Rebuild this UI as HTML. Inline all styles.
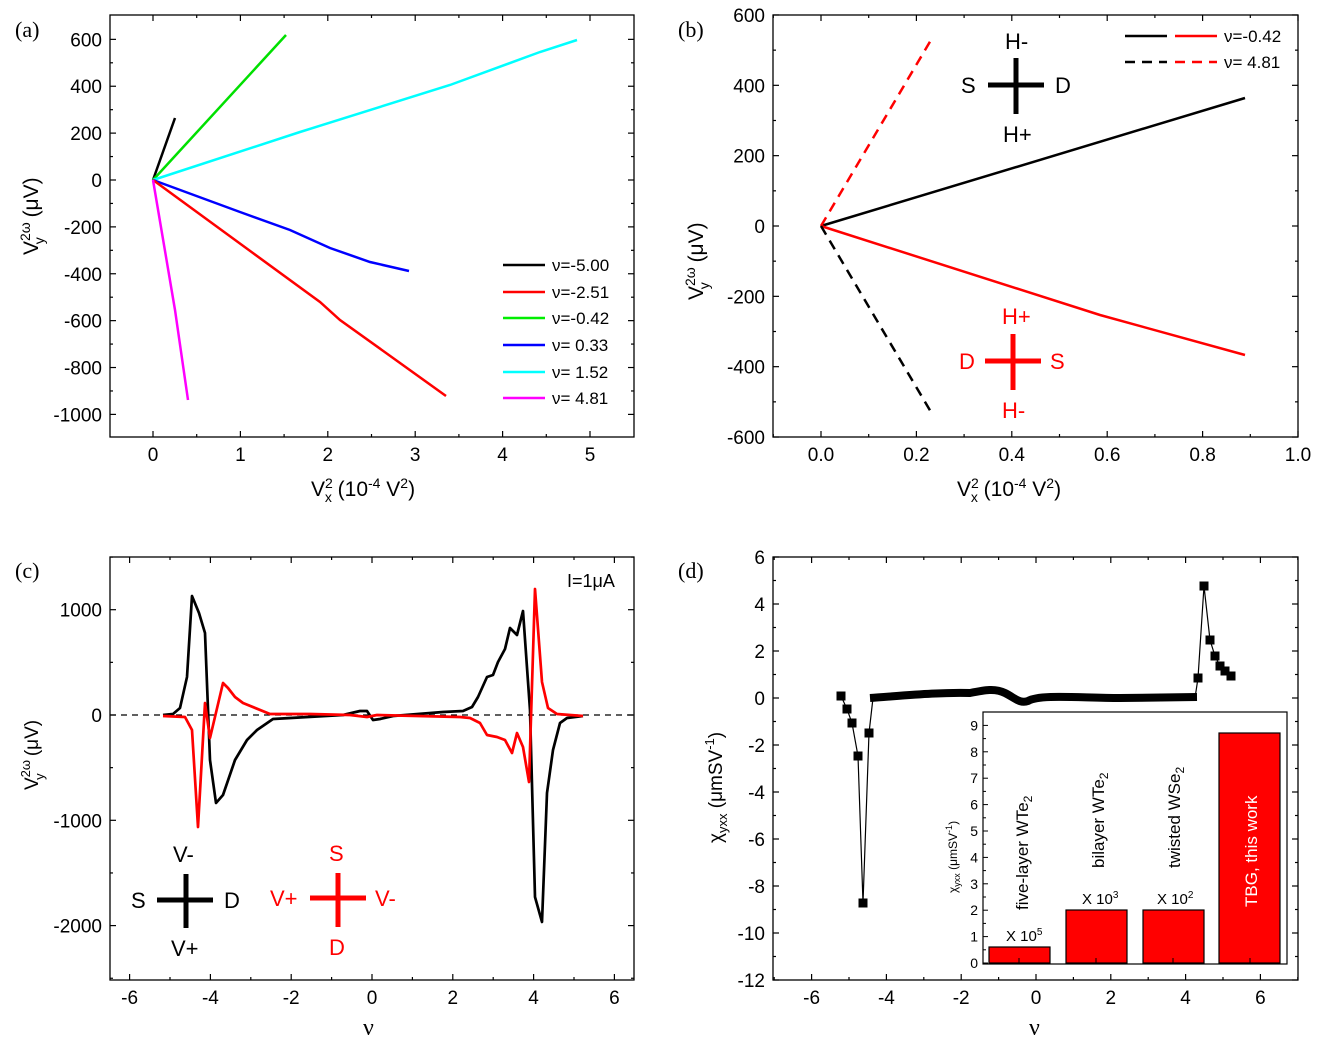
<!DOCTYPE html>
<html><head><meta charset="utf-8"><style>
body{margin:0;background:#fff}
svg{display:block;font-family:"Liberation Sans",sans-serif}
.s{font-family:"Liberation Serif",serif}
</style></head><body>
<svg id="g" width="1331" height="1049" viewBox="0 0 1331 1049" xmlns="http://www.w3.org/2000/svg">
<g fill="none" stroke="#000" stroke-width="1.3">
<rect x="110" y="15" width="524" height="422"/>
<rect x="773" y="15" width="525" height="422"/>
<rect x="110" y="557" width="524" height="423"/>
<rect x="773" y="557" width="525" height="423"/>
</g>
<g id="ticks" stroke="#000" stroke-width="1.2"></g>
<g id="labels" font-size="19" fill="#000"></g>
<text class="s" x="15" y="37" font-size="22">(a)</text>
<text class="s" x="678" y="37" font-size="22">(b)</text>
<text class="s" x="15" y="578" font-size="22">(c)</text>
<text class="s" x="678" y="578" font-size="22">(d)</text>

<text x="311" y="496" font-size="21">V<tspan font-size="14" dy="-8">2</tspan><tspan font-size="14" dx="-8" dy="14">x</tspan><tspan dy="-6"> (10</tspan><tspan font-size="14" dy="-8">-4</tspan><tspan dy="8"> V</tspan><tspan font-size="14" dy="-8">2</tspan><tspan dy="8">)</tspan></text>
<text x="957" y="496" font-size="21">V<tspan font-size="14" dy="-8">2</tspan><tspan font-size="14" dx="-8" dy="14">x</tspan><tspan dy="-6"> (10</tspan><tspan font-size="14" dy="-8">-4</tspan><tspan dy="8"> V</tspan><tspan font-size="14" dy="-8">2</tspan><tspan dy="8">)</tspan></text>
<text transform="translate(38,255) rotate(-90)" font-size="21">V<tspan font-size="14" dy="-8">2ω</tspan><tspan font-size="14" dx="-22" dy="14">y</tspan><tspan dy="-6" dx="14"> (μV)</tspan></text>
<text transform="translate(703,300) rotate(-90)" font-size="21">V<tspan font-size="14" dy="-8">2ω</tspan><tspan font-size="14" dx="-22" dy="14">y</tspan><tspan dy="-6" dx="14"> (μV)</tspan></text>
<text transform="translate(38,790) rotate(-90)" font-size="19">V<tspan font-size="13" dy="-8">2ω</tspan><tspan font-size="13" dx="-20" dy="14">y</tspan><tspan dy="-6" dx="12"> (μV)</tspan></text>
<text transform="translate(722,843) rotate(-90)" font-size="19">χ<tspan font-size="13" dy="5">yxx</tspan><tspan dy="-5"> (μmSV</tspan><tspan font-size="13" dy="-8">-1</tspan><tspan dy="8">)</tspan></text>
<text class="s" x="363" y="1035" font-size="24">ν</text>
<text class="s" x="1029" y="1035" font-size="24">ν</text>

<!-- panel a -->
<g fill="none" stroke-width="2.5">
<polyline stroke="#000" points="153,180 175,118"/>
<polyline stroke="#00e000" points="153,180 286,35"/>
<polyline stroke="#00ffff" points="153,180 300,132 450,85 540,52 577,40"/>
<polyline stroke="#0000ff" points="153,180 240,212 290,230 330,248 370,262 409,271"/>
<polyline stroke="#ff0000" points="153,180 320,302 340,320 400,363 446,396"/>
<polyline stroke="#ff00ff" points="153,180 175,310 188,400"/>
</g>
<g font-size="17">
<line x1="503" y1="265" x2="545" y2="265" stroke="#000" stroke-width="2.5"/><text x="552" y="271">ν=-5.00</text>
<line x1="503" y1="292" x2="545" y2="292" stroke="#f00" stroke-width="2.5"/><text x="552" y="298">ν=-2.51</text>
<line x1="503" y1="318" x2="545" y2="318" stroke="#0e0" stroke-width="2.5"/><text x="552" y="324">ν=-0.42</text>
<line x1="503" y1="345" x2="545" y2="345" stroke="#00f" stroke-width="2.5"/><text x="552" y="351">ν= 0.33</text>
<line x1="503" y1="372" x2="545" y2="372" stroke="#0ff" stroke-width="2.5"/><text x="552" y="378">ν= 1.52</text>
<line x1="503" y1="398" x2="545" y2="398" stroke="#f0f" stroke-width="2.5"/><text x="552" y="404">ν= 4.81</text>
</g>

<!-- panel b -->
<g fill="none" stroke-width="2.5">
<polyline stroke="#000" points="821,226 1245,98"/>
<polyline stroke="#f00" points="821,226 1100,315 1245,355"/>
<polyline stroke="#f00" stroke-dasharray="10,7" points="821,226 931,40"/>
<polyline stroke="#000" stroke-dasharray="10,7" points="821,226 931,412"/>
<line x1="1125" y1="36" x2="1167" y2="36" stroke="#000"/><line x1="1175" y1="36" x2="1217" y2="36" stroke="#f00"/>
<line x1="1125" y1="62" x2="1167" y2="62" stroke="#000" stroke-dasharray="10,7"/><line x1="1175" y1="62" x2="1217" y2="62" stroke="#f00" stroke-dasharray="10,7"/>
</g>
<text x="1224" y="42" font-size="17">ν=-0.42</text>
<text x="1224" y="68" font-size="17">ν= 4.81</text>
<g stroke="#000" stroke-width="5"><line x1="988" y1="85" x2="1044" y2="85"/><line x1="1016" y1="58" x2="1016" y2="114"/></g>
<g font-size="22"><text x="1005" y="49">H-</text><text x="961" y="93">S</text><text x="1055" y="93">D</text><text x="1003" y="142">H+</text></g>
<g stroke="#f00" stroke-width="5"><line x1="985" y1="361" x2="1041" y2="361"/><line x1="1013" y1="334" x2="1013" y2="390"/></g>
<g font-size="22" fill="#f00"><text x="1002" y="324">H+</text><text x="959" y="369">D</text><text x="1050" y="369">S</text><text x="1002" y="418">H-</text></g>

<!-- panel c -->
<line x1="110" y1="715" x2="634" y2="715" stroke="#000" stroke-width="1.3" stroke-dasharray="6,5"/>
<g fill="none" stroke-width="2.7" stroke-linejoin="round">
<polyline stroke="#000" points="163,715 173,714 180,708 187,677 192,596 199,613 205,633 210,760 216,803 223,795 235,760 247,740 257,730 273,719 343,715 360,711 367,711 373,720 380,719 393,716 443,712 463,711 472,707 478,697 487,677 493,675 498,662 505,649 510,628 517,635 523,611 530,710 535,897 542,922 547,793 553,750 560,723 567,718 583,716"/>
<polyline stroke="#f00" points="163,716 185,717 192,730 198,827 205,703 210,738 223,683 228,688 235,697 243,703 270,714 310,714 350,715 367,717 377,715 460,717 470,718 480,723 487,735 497,737 505,740 512,753 517,733 523,747 529,782 535,589 542,682 548,708 557,714 583,716"/>
</g>
<text x="567" y="587" font-size="18">I=1μA</text>
<g stroke="#000" stroke-width="5"><line x1="157" y1="900" x2="213" y2="900"/><line x1="186" y1="874" x2="186" y2="928"/></g>
<g font-size="22"><text x="173" y="862">V-</text><text x="131" y="908">S</text><text x="224" y="908">D</text><text x="171" y="956">V+</text></g>
<g stroke="#f00" stroke-width="5"><line x1="310" y1="898" x2="366" y2="898"/><line x1="338" y1="873" x2="338" y2="927"/></g>
<g font-size="22" fill="#f00"><text x="329" y="861">S</text><text x="270" y="906">V+</text><text x="375" y="906">V-</text><text x="329" y="955">D</text></g>

<!-- panel d -->
<g fill="none" stroke="#000" stroke-width="1.2">
<polyline points="841,696 847,709 852,723 858,756 863,903 869,733 873,698"/>
<polyline points="1195,698 1198,678 1204,586 1210,640 1215,656 1220,666 1225,671 1231,676"/>
</g>
<path d="M870,698 C900,696 940,692 970,693 C985,690 995,688 1005,693 C1015,698 1020,704 1028,701 C1040,694 1080,698 1120,698 L1197,697" fill="none" stroke="#000" stroke-width="8"/>
<g fill="#000" id="sq"></g>
<rect x="983" y="712" width="304" height="252" fill="#fff" stroke="#000" stroke-width="1.2"/>
<g fill="#f00" stroke="#000" stroke-width="1.2">
<rect x="989" y="947" width="61" height="16"/>
<rect x="1066" y="910" width="61" height="53"/>
<rect x="1143" y="910" width="61" height="53"/>
<rect x="1219" y="733" width="61" height="230"/>
</g>
<g font-size="15">
<text x="1006" y="941">X 10<tspan font-size="10" dy="-6">5</tspan></text>
<text x="1082" y="904">X 10<tspan font-size="10" dy="-6">3</tspan></text>
<text x="1157" y="904">X 10<tspan font-size="10" dy="-6">2</tspan></text>
<text transform="translate(1028,910) rotate(-90)" font-size="17">five-layer WTe<tspan font-size="12" dy="4">2</tspan></text>
<text transform="translate(1104,868) rotate(-90)" font-size="17">bilayer WTe<tspan font-size="12" dy="4">2</tspan></text>
<text transform="translate(1180,868) rotate(-90)" font-size="17">twisted WSe<tspan font-size="12" dy="4">2</tspan></text>
<text transform="translate(1257,907) rotate(-90)" font-size="17" fill="#fff">TBG, this work</text>
<text transform="translate(957,893) rotate(-90)" font-size="12">χ<tspan font-size="9" dy="3">yxx</tspan><tspan dy="-3"> (μmSV</tspan><tspan font-size="9" dy="-5">-1</tspan><tspan dy="5">)</tspan></text>
</g>
<g id="inset" stroke="#000" stroke-width="1" font-size="14"></g>
</svg>
<script>
var NS="http://www.w3.org/2000/svg";
function el(p,t,a,txt){var e=document.createElementNS(NS,t);for(var k in a)e.setAttribute(k,a[k]);if(txt!==undefined)e.textContent=txt;document.getElementById(p).appendChild(e);return e;}
function xt(vals,f,y0,y1,minor,lbl){vals.forEach(function(v){var x=f(v);el('ticks','line',{x1:x,y1:y1,x2:x,y2:y1-6});el('ticks','line',{x1:x,y1:y0,x2:x,y2:y0+6});el('labels','text',{x:x,y:y1+24,'text-anchor':'middle'},lbl(v));});
 minor.forEach(function(v){var x=f(v);el('ticks','line',{x1:x,y1:y1,x2:x,y2:y1-3});el('ticks','line',{x1:x,y1:y0,x2:x,y2:y0+3});});}
function yt(vals,f,x0,x1,minor,lbl){vals.forEach(function(v){var y=f(v);el('ticks','line',{x1:x0,y1:y,x2:x0+6,y2:y});el('ticks','line',{x1:x1,y1:y,x2:x1-6,y2:y});el('labels','text',{x:x0-8,y:y+7,'text-anchor':'end'},lbl(v));});
 minor.forEach(function(v){var y=f(v);el('ticks','line',{x1:x0,y1:y,x2:x0+3,y2:y});el('ticks','line',{x1:x1,y1:y,x2:x1-3,y2:y});});}
function r(a,b,s){var o=[];for(var v=a;v<=b+1e-9;v+=s)o.push(Math.round(v*1000)/1000);return o;}
var id=function(v){return String(v);};
xt(r(0,5,1),function(v){return 153+87.4*v},15,437,r(-0.5,5.5,1).filter(function(v){return v>-0.49&&v<5.45}),id);
yt(r(-1000,600,200),function(v){return 180-0.2344*v},110,634,r(-900,500,200),id);
xt(r(0,1,0.2),function(v){return 821+477*v},15,437,r(-0.1,0.9,0.2),function(v){return v.toFixed(1)});
yt(r(-600,600,200),function(v){return 226-0.3517*v},773,1298,r(-500,500,200),id);
xt(r(-6,6,2),function(v){return 372+40.4*v},557,980,r(-5,5,2),id);
yt([-2000,-1000,0,1000],function(v){return 715-0.1053*v},110,634,[-2500,-1500,-500,500,1500],id);
xt(r(-6,6,2),function(v){return 1036+37.4*v},557,980,r(-7,7,2),id);
yt(r(-12,6,2),function(v){return 698-23.5*v},773,1298,r(-11,5,2),id);
[[841,696],[847,709],[852,723],[858,756],[863,903],[869,733],[1198,678],[1204,586],[1210,640],[1215,656],[1220,666],[1225,671],[1231,676]].forEach(function(p){el('sq','rect',{x:p[0]-4.5,y:p[1]-4.5,width:9,height:9});});
for(var i=0;i<=9;i++){var y=963-26.4*i;el('inset','line',{x1:983,y1:y,x2:988,y2:y});el('inset','text',{x:978,y:y+5,'text-anchor':'end',stroke:'none'},String(i));if(i<9)el('inset','line',{x1:983,y1:y-13.2,x2:986,y2:y-13.2});}
[1019,1096,1173,1250].forEach(function(x){el('inset','line',{x1:x,y1:963,x2:x,y2:958});});
</script>
</body></html>
